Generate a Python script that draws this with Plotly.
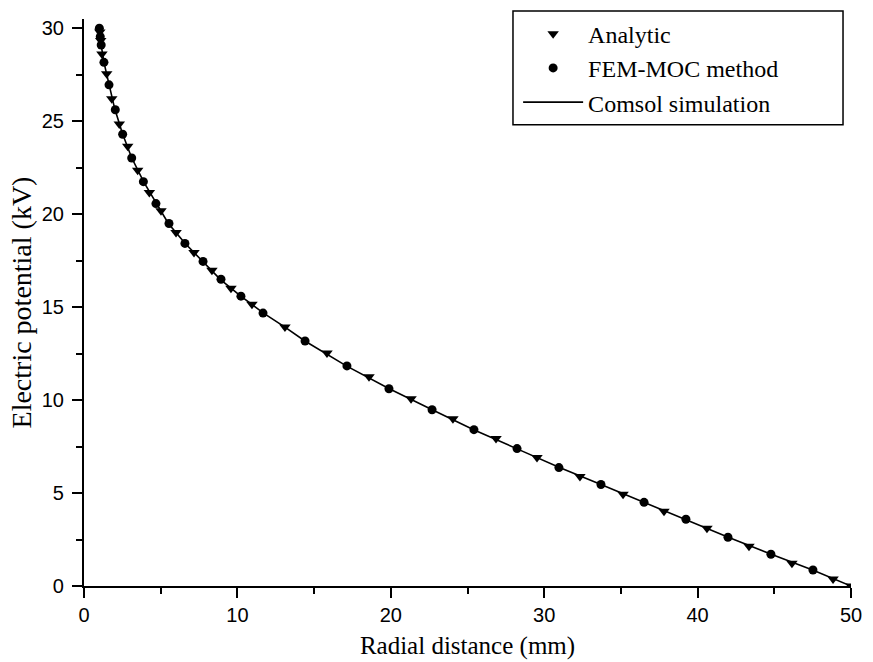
import plotly.graph_objects as go

# Analytic (triangles)
analytic_r = [1.03, 1.09, 1.17, 1.48, 1.81, 2.30, 2.85, 3.50, 4.26, 5.02, 6.00, 7.17, 8.34,
              9.58, 10.95, 13.10, 15.84, 18.58, 21.32, 24.05, 26.86, 29.53, 32.33, 35.14,
              37.81, 40.61, 43.35, 46.15, 48.83, 50.0]
analytic_v = [29.80, 29.35, 28.62, 27.55, 26.21, 24.85, 23.66, 22.37, 21.17, 20.19, 19.01,
              17.94, 16.98, 16.02, 15.16, 13.93, 12.54, 11.25, 10.07, 9.00, 7.93, 6.91,
              5.89, 4.93, 4.02, 3.11, 2.14, 1.23, 0.37, 0.0]

# FEM-MOC method (circles)
fem_r = [1.00, 1.06, 1.12, 1.30, 1.63, 2.04, 2.52, 3.11, 3.87, 4.69, 5.54, 6.58, 7.76, 8.93,
         10.23, 11.67, 14.41, 17.14, 19.88, 22.69, 25.42, 28.23, 30.96, 33.70, 36.51, 39.24,
         41.98, 44.78, 47.52]
fem_v = [30.00, 29.55, 29.10, 28.17, 26.96, 25.62, 24.30, 23.02, 21.75, 20.57, 19.50, 18.43,
         17.46, 16.50, 15.59, 14.68, 13.18, 11.84, 10.61, 9.48, 8.41, 7.39, 6.37, 5.46, 4.50,
         3.59, 2.62, 1.71, 0.86]

# Comsol simulation (line)
comsol_r = [1.00, 1.10, 1.30, 1.60, 2.00, 2.50, 3.10, 3.90, 4.70, 5.50, 6.60, 7.80, 8.90,
            10.2, 11.7, 13.1, 14.4, 17.1, 19.9, 22.7, 25.4, 28.2, 31.0, 33.7, 36.5, 39.2,
            42.0, 44.8, 47.5, 50.0]
comsol_v = [30.00, 29.20, 28.17, 27.05, 25.68, 24.35, 23.05, 21.72, 20.57, 19.50, 18.42,
            17.43, 16.48, 15.60, 14.68, 13.93, 13.18, 11.84, 10.61, 9.48, 8.41, 7.39, 6.37,
            5.46, 4.50, 3.59, 2.62, 1.71, 0.86, 0.0]

x_ticks = [0, 10, 20, 30, 40, 50]
y_ticks = [0, 5, 10, 15, 20, 25, 30]

fig = go.Figure()
fig.add_trace(go.Scatter(x=analytic_r, y=analytic_v, mode="markers", name="Analytic",
                         marker=dict(symbol="triangle-down", size=10, color="black")))
fig.add_trace(go.Scatter(x=fem_r, y=fem_v, mode="markers", name="FEM-MOC method",
                         marker=dict(symbol="circle", size=9, color="black")))
fig.add_trace(go.Scatter(x=comsol_r, y=comsol_v, mode="lines", name="Comsol simulation",
                         line=dict(color="black", width=1.6)))

axis_common = dict(
    showline=True, linecolor="black", linewidth=2.2, mirror=False,
    ticks="outside", ticklen=10, tickwidth=2, tickcolor="black",
    showgrid=False, zeroline=False, automargin=False,
    tickfont=dict(family="Liberation Sans, Arial", size=20, color="black"),
)

fig.update_layout(
    width=873, height=662,
    paper_bgcolor="white", plot_bgcolor="white",
    margin=dict(l=84, r=22, t=17, b=76),
    showlegend=True,
    legend=dict(x=0.566, y=1.013, xanchor="left", yanchor="top",
                borderwidth=0, bgcolor="rgba(0,0,0,0)",
                font=dict(family="Liberation Serif, Times New Roman", size=24, color="black"),
                tracegroupgap=0, itemwidth=60),
    shapes=[dict(type="rect", xref="paper", yref="paper",
                 x0=0.5593, x1=0.9896, y0=0.8137, y1=1.0141,
                 line=dict(color="black", width=1.5), fillcolor="rgba(0,0,0,0)",
                 layer="above")],
    xaxis=dict(range=[0, 50], tickvals=x_ticks, ticktext=[str(v) for v in x_ticks],
               minor=dict(tickvals=[5, 15, 25, 35, 45], ticklen=6, tickwidth=2,
                          tickcolor="black", ticks="outside"),
               title=dict(text="Radial distance (mm)", standoff=11,
                          font=dict(family="Liberation Serif, Times New Roman", size=25,
                                    color="black")),
               **axis_common),
    yaxis=dict(range=[0, 30.5], tickvals=y_ticks, ticktext=[str(v) for v in y_ticks],
               ticklabelstandoff=4,
               minor=dict(tickvals=[2.5, 7.5, 12.5, 17.5, 22.5, 27.5], ticklen=6,
                          tickwidth=2, tickcolor="black", ticks="outside"),
               title=dict(text="Electric potential (kV)", standoff=2,
                          font=dict(family="Liberation Serif, Times New Roman", size=28,
                                    color="black")),
               **axis_common),
)

fig.write_html("out.html", config={"displayModeBar": False},
               post_script="document.body.style.margin='0';document.body.style.overflow='hidden';")
